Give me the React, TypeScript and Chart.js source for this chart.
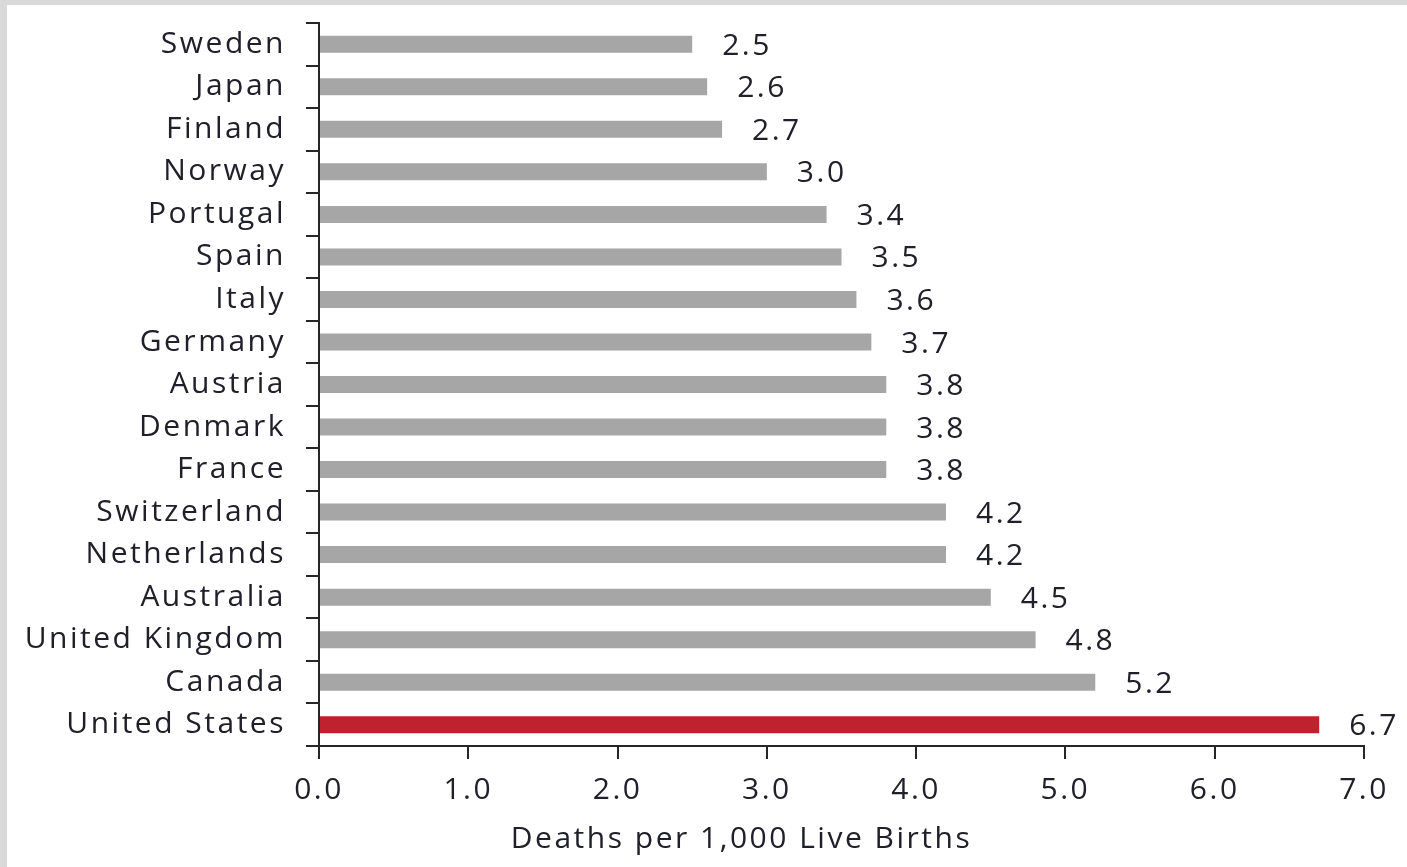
import React, { useEffect, useRef } from "react";
import { Chart, registerables } from "chart.js";

Chart.register(...registerables);

const countries = [
  "Sweden",
  "Japan",
  "Finland",
  "Norway",
  "Portugal",
  "Spain",
  "Italy",
  "Germany",
  "Austria",
  "Denmark",
  "France",
  "Switzerland",
  "Netherlands",
  "Australia",
  "United Kingdom",
  "Canada",
  "United States",
];

const deathsPer1000 = [
  2.5, 2.6, 2.7, 3.0, 3.4, 3.5, 3.6, 3.7, 3.8, 3.8, 3.8, 4.2, 4.2, 4.5, 4.8, 5.2, 6.7,
];

const highlightCountry = "United States";
const xAxisTitle = "Deaths per 1,000 Live Births";

const FONT = "'Open Sans', 'DejaVu Sans', sans-serif";
const FONT_SIZE = 30;
const TEXT = "#20202a";
const AXIS = "#262626";

// Wide tracking on all chart text
const letterSpacing = {
  id: "letterSpacing",
  beforeDraw(chart: any) {
    (chart.ctx as any).letterSpacing = "2.5px";
  },
};

// Value at the end of each bar, plus the axis caption under the figure
const annotations = {
  id: "annotations",
  afterDatasetsDraw(chart: any) {
    const ctx = chart.ctx;
    const meta = chart.getDatasetMeta(0);
    ctx.save();
    ctx.font = `${FONT_SIZE}px ${FONT}`;
    ctx.fillStyle = TEXT;
    ctx.textAlign = "left";
    ctx.textBaseline = "middle";
    meta.data.forEach((bar: any, i: number) => {
      const v = deathsPer1000[i];
      ctx.fillText(v.toFixed(1), bar.x + 30, bar.y + 2);
    });
    const xs = chart.scales.x;
    ctx.textAlign = "center";
    ctx.fillText(xAxisTitle, (xs.left + xs.right) / 2 - 100, xs.bottom - 28);
    ctx.restore();
  },
};

export default function App() {
  const canvasRef = useRef<HTMLCanvasElement | null>(null);

  useEffect(() => {
    if (!canvasRef.current) return;
    const chart = new Chart(canvasRef.current, {
      type: "bar",
      data: {
        labels: countries,
        datasets: [
          {
            data: deathsPer1000,
            backgroundColor: countries.map((c) =>
              c === highlightCountry ? "#be222e" : "#a6a6a6"
            ),
            categoryPercentage: 1,
            barPercentage: 0.4,
          },
        ],
      },
      options: {
        indexAxis: "y",
        animation: false,
        responsive: false,
        layout: { padding: { top: 18, right: 43, left: 0, bottom: 0 } },
        plugins: {
          legend: { display: false },
          tooltip: { enabled: false },
        },
        scales: {
          x: {
            min: 0,
            max: 7,
            ticks: {
              stepSize: 1,
              color: TEXT,
              font: { family: FONT, size: FONT_SIZE },
              padding: 13,
              callback: (v: any) => Number(v).toFixed(1),
            },
            grid: {
              drawOnChartArea: false,
              drawTicks: true,
              tickLength: 13,
              color: AXIS,
              lineWidth: 2,
            },
            border: { display: true, color: AXIS, width: 2 },
            afterFit: (s: any) => {
              s.height = 121;
              s.paddingLeft = 0;
              s.paddingRight = 0;
            },
          },
          y: {
            ticks: {
              color: TEXT,
              font: { family: FONT, size: FONT_SIZE },
              padding: 20,
            },
            grid: {
              drawOnChartArea: false,
              drawTicks: true,
              tickLength: 13,
              color: AXIS,
              lineWidth: 2,
              offset: true,
            },
            border: { display: true, color: AXIS, width: 2 },
            afterFit: (s: any) => {
              s.width = 312;
              s.paddingTop = 0;
              s.paddingBottom = 0;
            },
          },
        },
      },
      plugins: [letterSpacing, annotations],
    });
    return () => chart.destroy();
  }, []);

  return (
    <div
      style={{
        position: "fixed",
        left: 0,
        top: 0,
        width: 1407,
        height: 867,
        background: "#d9d9d9",
      }}
    >
      <div
        style={{
          position: "absolute",
          left: 7,
          top: 5,
          width: 1400,
          height: 862,
          background: "#ffffff",
        }}
      >
        <canvas
          ref={canvasRef}
          width={1400}
          height={862}
          style={{ width: 1400, height: 862, display: "block" }}
        />
      </div>
    </div>
  );
}
